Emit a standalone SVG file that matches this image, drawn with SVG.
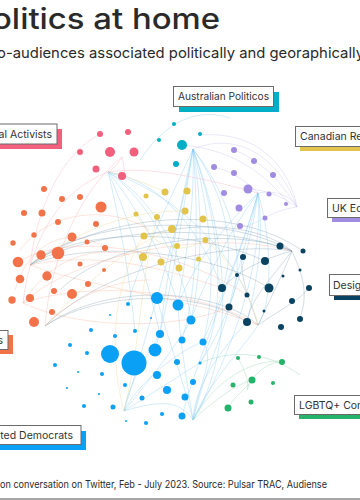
<svg xmlns="http://www.w3.org/2000/svg" width="360" height="500" viewBox="0 0 360 500">
<style>
.t{font-family:Inter,"Liberation Sans",Arial,sans-serif;fill:#2a2a2a}
.lb{font-family:Inter,"Liberation Sans",Arial,sans-serif;font-size:10.5px;fill:#333}
.box{fill:#fff;stroke:#6b6b6b;stroke-width:1}
#edges path{fill:none;stroke-width:.6}
.eb{stroke:#7cc4f2;opacity:.55}
.en{stroke:#5d8198;opacity:.45}
.eo{stroke:#f5a58b;opacity:.5}
.ep{stroke:#f6a2b3;opacity:.55}
.ey{stroke:#ecd88a;opacity:.6}
.el{stroke:#c3b8ec;opacity:.55}
.eg{stroke:#9bd8b8;opacity:.7}
.pk circle{fill:#f2607e}
.tl circle{fill:#00aec6}
.yl circle{fill:#e2c44c}
.li circle{fill:#a08ce0}
.nv circle{fill:#0a4262}
.or circle{fill:#f2734a}
.bl circle{fill:#0aa0f5}
.gr circle{fill:#25b36b}
</style>
<rect width="360" height="500" fill="#fff"/>
<text class="t" x="-8" y="29" font-size="29" font-weight="500" textLength="228" lengthAdjust="spacingAndGlyphs">olitics at home</text>
<text class="t" x="-3" y="58" font-size="14.5" textLength="367" lengthAdjust="spacingAndGlyphs" fill="#333">o-audiences associated politically and georaphically</text>
<g id="edges">
<path class="eb" d="M193,149 C185,200 170,250 157,298"/>
<path class="eb" d="M193,149 C195,210 185,260 178,305"/>
<path class="eb" d="M193,149 C205,220 200,280 191,320"/>
<path class="eb" d="M193,149 C215,230 215,300 203,342"/>
<path class="eb" d="M193,149 C225,240 225,320 200,363"/>
<path class="eb" d="M193,149 C235,260 230,360 193,420"/>
<path class="eb" d="M193,149 C175,230 165,290 160,334"/>
<path class="eb" d="M193,149 C200,230 195,300 182,340"/>
<path class="eb" d="M193,149 C230,200 235,260 222,288"/>
<path class="eb" d="M193,149 C240,210 245,270 229,307"/>
<path class="eb" d="M193,149 C170,200 140,260 128,304"/>
<path class="eb" d="M193,149 C180,230 170,300 155,350"/>
<path class="eb" d="M140,160 C160,130 190,105 230,118"/>
<path class="eb" d="M108,172 C140,190 170,230 181,268"/>
<path class="eb" d="M108,172 C150,200 185,270 191,320"/>
<path class="eb" d="M108,172 C140,210 165,260 178,305"/>
<path class="eb" d="M108,172 C130,220 150,290 160,334"/>
<path class="eb" d="M108,172 C170,190 230,250 247,295"/>
<path class="eb" d="M108,172 C120,220 130,280 135,331"/>
<path class="eb" d="M108,172 C160,180 200,230 222,288"/>
<path class="eb" d="M258,193 C245,240 220,300 203,342"/>
<path class="eb" d="M258,193 C250,250 230,320 200,363"/>
<path class="eb" d="M258,193 C230,230 205,280 191,320"/>
<path class="eb" d="M258,193 C265,260 230,360 193,420"/>
<path class="eb" d="M258,193 C230,220 195,260 178,305"/>
<path class="eb" d="M258,193 C265,240 255,290 247,322"/>
<path class="eb" d="M258,193 C240,260 200,350 182,416"/>
<path class="eb" d="M258,193 C250,230 240,260 229,307"/>
<path class="eb" d="M258,193 C270,230 275,300 258,325"/>
<path class="eb" d="M124,411 C140,380 180,350 203,342"/>
<path class="eb" d="M124,411 C150,380 180,340 191,320"/>
<path class="eb" d="M124,411 C130,380 150,350 160,334"/>
<path class="eb" d="M124,411 C150,395 180,375 200,363"/>
<path class="eb" d="M124,411 C140,360 150,320 157,298"/>
<path class="eb" d="M193,420 C195,380 230,340 247,322"/>
<path class="eb" d="M193,420 C205,370 225,330 229,307"/>
<path class="eb" d="M193,420 C185,370 180,340 178,305"/>
<path class="eb" d="M193,420 C180,370 165,330 157,298"/>
<path class="eb" d="M193,420 C200,380 215,360 203,342"/>
<path class="eb" d="M124,411 C160,400 180,400 193,420"/>
<path class="eb" d="M193,420 C210,380 250,340 258,325"/>
<path class="en" d="M30,265 C80,220 220,210 292,251"/>
<path class="en" d="M30,265 C90,230 210,220 292,251"/>
<path class="en" d="M30,265 C80,225 200,230 265,261"/>
<path class="en" d="M30,265 C90,240 210,250 269,288"/>
<path class="en" d="M30,265 C100,215 230,200 303,251"/>
<path class="en" d="M45,326 C100,270 220,240 292,251"/>
<path class="en" d="M45,326 C110,280 220,290 258,325"/>
<path class="en" d="M45,326 C100,290 200,290 247,322"/>
<path class="en" d="M60,290 C110,240 230,225 292,251"/>
<path class="en" d="M143,236 C200,220 260,225 292,251"/>
<path class="en" d="M292,251 C280,280 270,300 258,325"/>
<path class="en" d="M292,251 C270,280 250,300 247,322"/>
<path class="en" d="M258,325 C280,310 300,300 309,288"/>
<path class="en" d="M292,251 C300,270 310,290 300,318"/>
<path class="en" d="M292,251 C260,260 240,270 222,288"/>
<path class="en" d="M258,325 C250,300 240,280 242,257"/>
<path class="eo" d="M23,303 C80,250 220,230 292,251"/>
<path class="eo" d="M23,303 C90,280 200,290 258,325"/>
<path class="eo" d="M30,265 C100,290 200,300 258,325"/>
<path class="eo" d="M18,262 C70,230 180,250 247,295"/>
<path class="eo" d="M20,250 C50,210 110,205 150,230"/>
<path class="eo" d="M15,290 C30,240 70,225 105,248"/>
<path class="eo" d="M23,303 C50,260 90,245 130,255"/>
<path class="eo" d="M45,326 C70,300 110,280 150,280"/>
<path class="eo" d="M23,303 C80,330 180,330 229,307"/>
<path class="eo" d="M30,265 C100,250 170,270 222,288"/>
<path class="ep" d="M108,172 C60,190 30,240 23,303"/>
<path class="ep" d="M122,157 C80,190 50,260 45,326"/>
<path class="ep" d="M108,172 C118,165 120,160 122,157"/>
<path class="ep" d="M122,157 C124,165 124,170 125,176"/>
<path class="ep" d="M108,172 C150,165 210,180 258,193"/>
<path class="ep" d="M100,134 C70,150 40,190 30,265"/>
<path class="ey" d="M143,236 C110,290 110,360 124,411"/>
<path class="ey" d="M172,229 C120,250 80,290 45,326"/>
<path class="ey" d="M185,211 C130,210 80,230 30,265"/>
<path class="ey" d="M165,192 C140,180 120,175 108,172"/>
<path class="ey" d="M205,240 C230,260 250,290 258,325"/>
<path class="ey" d="M157,217 C140,280 140,350 124,411"/>
<path class="ey" d="M136,214 C150,240 170,260 205,240"/>
<path class="el" d="M193,149 C240,130 280,160 297,207"/>
<path class="el" d="M200,135 C260,130 290,170 297,207"/>
<path class="el" d="M182,145 C240,150 270,180 290,205"/>
<path class="el" d="M258,193 C275,190 290,195 297,207"/>
<path class="el" d="M297,207 C280,180 260,160 234,150"/>
<path class="el" d="M297,207 C280,195 265,190 248,189"/>
<path class="el" d="M258,193 C240,175 225,170 214,167"/>
<path class="el" d="M297,207 C270,210 250,230 240,226"/>
<path class="eg" d="M193,420 C215,380 250,360 282,361"/>
<path class="eg" d="M193,420 C215,400 235,385 252,380"/>
<path class="eg" d="M247,390 C255,370 270,362 282,362"/>
<path class="eg" d="M200,363 C230,350 265,350 300,375"/>
<path class="eg" d="M238,358 C245,370 250,385 247,390"/>
<path class="eg" d="M228,408 C235,395 245,390 252,380"/>
</g>
<g id="cluster-local-activists" class="pk">
<circle cx="100" cy="134" r="3"/><circle cx="128" cy="132" r="3"/><circle cx="80" cy="152" r="3"/><circle cx="110" cy="152" r="5"/><circle cx="134" cy="152" r="4.5"/><circle cx="96" cy="169" r="3.5"/><circle cx="122" cy="176" r="4"/>
</g>
<g id="cluster-australian-politicos" class="tl">
<circle cx="174" cy="124" r="2"/><circle cx="159" cy="140" r="2"/><circle cx="200" cy="134" r="2"/><circle cx="182" cy="145" r="5"/><circle cx="176" cy="164" r="3"/>
</g>
<g id="cluster-canadian" class="yl">
<circle cx="146" cy="196" r="2.5"/><circle cx="165" cy="192" r="3.5"/><circle cx="187" cy="191" r="3.5"/><circle cx="136" cy="214" r="2.5"/><circle cx="157" cy="217" r="3"/><circle cx="185" cy="211" r="3.5"/><circle cx="203" cy="219" r="3.5"/><circle cx="172" cy="229" r="4"/><circle cx="144" cy="236" r="3.5"/><circle cx="205.5" cy="240" r="3"/><circle cx="177" cy="246" r="3"/><circle cx="143" cy="257" r="4"/><circle cx="161" cy="262" r="3.5"/><circle cx="179" cy="268" r="3.5"/><circle cx="198.5" cy="259" r="2.5"/>
</g>
<g id="cluster-uk" class="li">
<circle cx="234" cy="150" r="3"/><circle cx="254" cy="161" r="3"/><circle cx="214" cy="167" r="3"/><circle cx="234" cy="173" r="3"/><circle cx="273" cy="175" r="3"/><circle cx="224" cy="193" r="3"/><circle cx="248" cy="189" r="4.5"/><circle cx="269" cy="194" r="2.5"/><circle cx="286" cy="204" r="2"/><circle cx="239" cy="208" r="3.5"/><circle cx="265" cy="218" r="2.5"/><circle cx="240" cy="226" r="3"/>
</g>
<g id="cluster-design" class="nv">
<circle cx="280" cy="246" r="3.5"/><circle cx="303" cy="251" r="2.5"/><circle cx="243" cy="257" r="3"/><circle cx="265" cy="261" r="4"/><circle cx="237" cy="275" r="2"/><circle cx="300" cy="270" r="1.5"/><circle cx="283" cy="276" r="1.5"/><circle cx="222" cy="288" r="4"/><circle cx="269" cy="288" r="4.5"/><circle cx="247" cy="295" r="2.5"/><circle cx="309" cy="288" r="3"/><circle cx="292" cy="301" r="3"/><circle cx="229" cy="307" r="3.5"/><circle cx="264" cy="311" r="1.5"/><circle cx="300" cy="319" r="3"/><circle cx="247" cy="322" r="4"/><circle cx="281" cy="327" r="3"/>
</g>
<g id="cluster-orange" class="or">
<circle cx="44" cy="189" r="3"/><circle cx="62" cy="199" r="3"/><circle cx="80" cy="197" r="3"/><circle cx="101" cy="207" r="5.5"/><circle cx="24" cy="213" r="3"/><circle cx="42" cy="213" r="3.5"/><circle cx="58" cy="222" r="3"/><circle cx="96" cy="224" r="3"/><circle cx="34" cy="235" r="2.7"/><circle cx="72" cy="237" r="4.5"/><circle cx="13" cy="243" r="2.7"/><circle cx="58" cy="253" r="6.3"/><circle cx="41" cy="255" r="4.7"/><circle cx="18" cy="262" r="5.3"/><circle cx="87" cy="242" r="2.5"/><circle cx="105" cy="248" r="3"/><circle cx="80" cy="264" r="2.5"/><circle cx="104" cy="270" r="2"/><circle cx="20" cy="279" r="4.3"/><circle cx="47" cy="276" r="4.7"/><circle cx="88" cy="284" r="3"/><circle cx="54" cy="291" r="3"/><circle cx="72" cy="294" r="5"/><circle cx="30" cy="298" r="4"/><circle cx="12" cy="300" r="3.7"/><circle cx="52" cy="312" r="3"/><circle cx="34" cy="322" r="5"/>
</g>
<g id="cluster-democrats" class="bl">
<circle cx="157" cy="298" r="6"/><circle cx="178" cy="305" r="5.5"/><circle cx="128" cy="304" r="2"/><circle cx="110" cy="315" r="1"/><circle cx="151" cy="318" r="1"/><circle cx="191" cy="320" r="4.5"/><circle cx="135" cy="331" r="2"/><circle cx="160" cy="334" r="4"/><circle cx="115" cy="336" r="2"/><circle cx="182" cy="340" r="3.5"/><circle cx="203" cy="342" r="3.5"/><circle cx="91" cy="330" r="2"/><circle cx="70" cy="345" r="2"/><circle cx="87" cy="353" r="2"/><circle cx="110" cy="354" r="9"/><circle cx="134" cy="363" r="12.5"/><circle cx="155" cy="350" r="6.5"/><circle cx="177" cy="362" r="3"/><circle cx="200" cy="363" r="1.5"/><circle cx="55" cy="365" r="2"/><circle cx="78" cy="372" r="1"/><circle cx="102" cy="374" r="2"/><circle cx="67" cy="388" r="1"/><circle cx="99" cy="394" r="1"/><circle cx="125" cy="385" r="2"/><circle cx="142" cy="398" r="2.5"/><circle cx="84" cy="406" r="2"/><circle cx="113" cy="407" r="2.5"/><circle cx="126" cy="421" r="1"/><circle cx="146" cy="423" r="2"/><circle cx="162" cy="414" r="2"/><circle cx="157" cy="375" r="4"/><circle cx="167" cy="390" r="4"/><circle cx="193" cy="382" r="3"/><circle cx="185" cy="397" r="3.5"/><circle cx="182" cy="416" r="3.5"/>
</g>
<g id="cluster-lgbtq" class="gr">
<circle cx="238" cy="358" r="2"/><circle cx="259" cy="357" r="2"/><circle cx="282" cy="362" r="3"/><circle cx="233" cy="385" r="2.5"/><circle cx="252" cy="380" r="3.5"/><circle cx="273" cy="383" r="2"/><circle cx="251" cy="402" r="2.5"/><circle cx="228" cy="408" r="3.5"/>
</g>
<g id="label-local-activists">
<rect x="-15" y="129" width="77" height="20" fill="#f2607e"/>
<rect class="box" x="-20" y="124" width="77" height="20"/>
<text class="lb" x="52" y="138" text-anchor="end">al Activists</text>
</g>
<g id="label-australian-politicos">
<rect x="179" y="92" width="100" height="20" fill="#00aec6"/>
<rect class="box" x="173.5" y="86.5" width="100" height="20"/>
<text class="lb" x="178" y="100" textLength="91" lengthAdjust="spacingAndGlyphs">Australian Politicos</text>
</g>
<g id="label-canadian">
<rect x="300" y="131" width="80" height="20" fill="#e2c44c"/>
<rect class="box" x="295.5" y="126.5" width="80" height="20"/>
<text class="lb" x="300" y="140">Canadian Re</text>
</g>
<g id="label-uk">
<rect x="332" y="203" width="50" height="19" fill="#a08ce0"/>
<rect class="box" x="327.5" y="198.5" width="50" height="19"/>
<text class="lb" x="332" y="211.5">UK Ec</text>
</g>
<g id="label-design">
<rect x="334" y="279" width="50" height="21" fill="#0a4262"/>
<rect class="box" x="329.5" y="274.5" width="50" height="21"/>
<text class="lb" x="333" y="288.5">Desig</text>
</g>
<g id="label-left">
<rect x="-55" y="335" width="68" height="19" fill="#f2734a"/>
<rect class="box" x="-60" y="330.5" width="68" height="19"/>
<text class="lb" x="3" y="344" text-anchor="end">s</text>
</g>
<g id="label-democrats">
<rect x="-5" y="431" width="91" height="19" fill="#0aa0f5"/>
<rect class="box" x="-10" y="425.5" width="91" height="19"/>
<text class="lb" x="73" y="438.5" text-anchor="end">ated Democrats</text>
</g>
<g id="label-lgbtq">
<rect x="299" y="400" width="80" height="19" fill="#25b36b"/>
<rect class="box" x="294.5" y="395.5" width="80" height="19"/>
<text class="lb" x="299" y="409">LGBTQ+ Con</text>
</g>
<text class="t" x="0" y="488" font-size="10.5" textLength="327" lengthAdjust="spacingAndGlyphs" fill="#333">on conversation on Twitter, Feb - July 2023. Source: Pulsar TRAC, Audiense</text>
<line x1="0" y1="499" x2="360" y2="499" stroke="#8a8a8a" stroke-width="1.5"/>
</svg>
